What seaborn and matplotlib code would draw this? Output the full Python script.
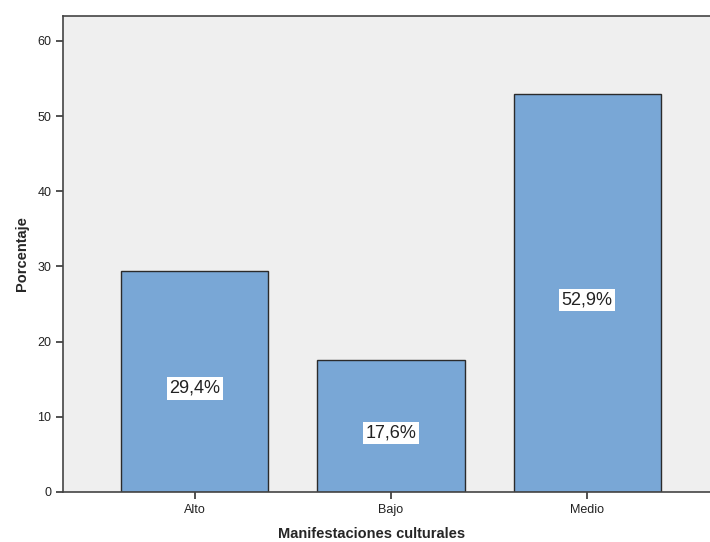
import numpy as np
import pandas as pd
import seaborn as sns
import matplotlib.pyplot as plt

categorias = ["Alto", "Bajo", "Medio"]
porcentajes = [29.4, 17.6, 52.9]
etiquetas = ["29,4%", "17,6%", "52,9%"]

df = pd.DataFrame({"cat": categorias, "pct": porcentajes})

sns.set_style("white")
plt.rcParams['font.family'] = ['Liberation Sans', 'DejaVu Sans']

fig = plt.figure(figsize=(7.10, 5.42), dpi=100)
ax = fig.add_axes([63 / 710, 50 / 542, 656 / 710, 476 / 542])
ax.set_facecolor("#EFEFEF")

sns.barplot(data=df, x="cat", y="pct", color="#79A7D6", saturation=1,
            edgecolor="#2b2b2b", linewidth=1.0, width=0.75, ax=ax)

# etiquetas en el centro de cada barra
for i, (v, t) in enumerate(zip(porcentajes, etiquetas)):
    ax.annotate(t, (i, v / 2), xytext=(0, -5), textcoords="offset points",
                ha="center", va="center", fontsize=13, color="#222222",
                bbox=dict(facecolor="white", edgecolor="none", pad=2))

ax.set_xlim(-0.673, 2.673)
ax.set_ylim(0, 63.3)
ax.set_yticks([0, 10, 20, 30, 40, 50, 60])
ax.tick_params(axis="both", direction="out", length=5, width=1.2, color="#333333",
               labelsize=9, labelcolor="#222222", left=True, bottom=True)
for s in ["left", "bottom", "top", "right"]:
    ax.spines[s].set_color("#444444")
    ax.spines[s].set_linewidth(1.2)

ax.set_xlabel("Manifestaciones culturales", fontsize=10.5, fontweight="bold")
ax.xaxis.set_label_coords(0.471, -0.073)
ax.set_ylabel("Porcentaje", fontsize=10.5, fontweight="bold", labelpad=6)

fig.savefig("out.png", dpi=100)
